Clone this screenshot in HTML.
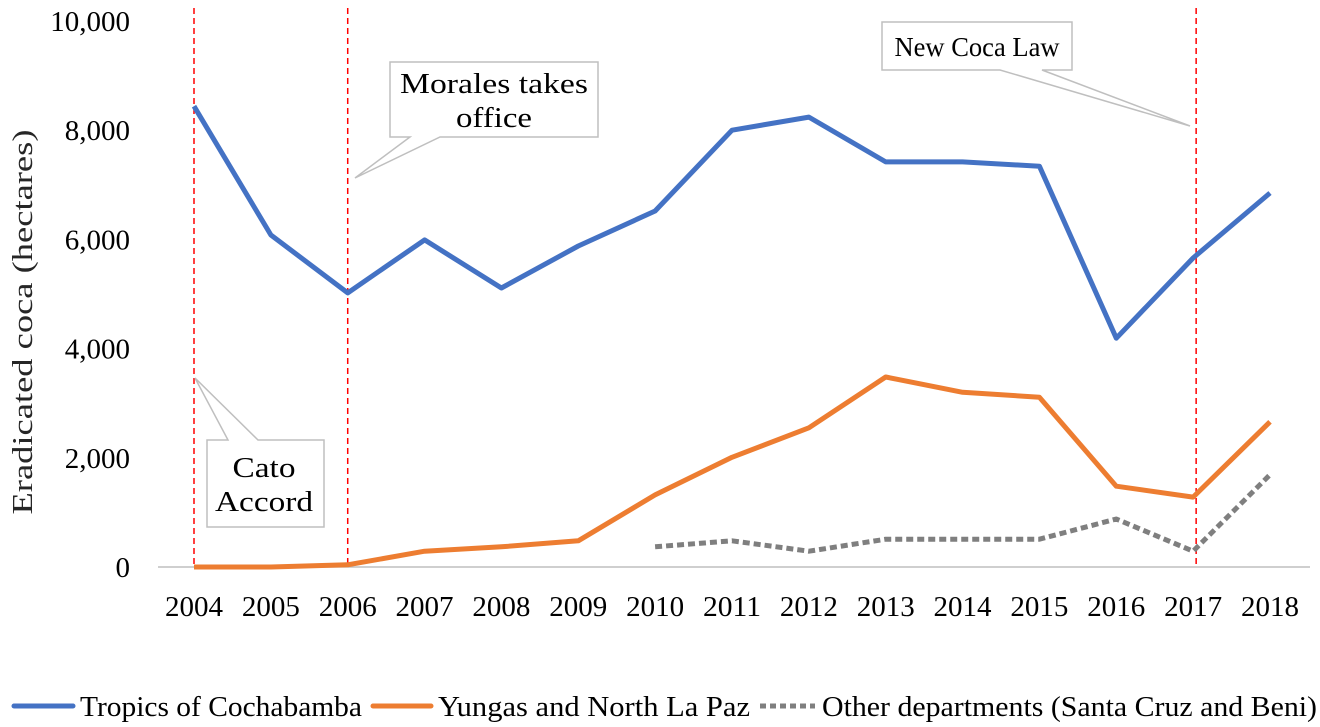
<!DOCTYPE html>
<html><head><meta charset="utf-8"><style>
body{margin:0;background:#fff;}
svg{display:block;font-family:"Liberation Serif",serif;}
</style></head><body>
<svg id="chart" width="1320" height="727" viewBox="0 0 1320 727">
<line x1="158" y1="567" x2="1310" y2="567" stroke="#bfbfbf" stroke-width="1.5"/>
<g id="ticks"></g>
<text transform="translate(32,322) rotate(-90)" text-anchor="middle" font-size="29" textLength="385" lengthAdjust="spacingAndGlyphs" fill="#262626">Eradicated coca (hectares)</text>
<g id="events"></g>
<g id="series"></g>
<g>
<polygon points="390,62 598,62 598,137 440,137 355,178 410,137 390,137" fill="#fff" stroke="#bfbfbf" stroke-width="1.5"/>
<text x="494" y="93" text-anchor="middle" font-size="29" textLength="188" lengthAdjust="spacingAndGlyphs" fill="#000">Morales takes</text>
<text x="494" y="127" text-anchor="middle" font-size="29" textLength="76" lengthAdjust="spacingAndGlyphs" fill="#000">office</text>
</g>
<g>
<polygon points="882,22 1072,22 1072,70 1042,70 1190,126 1000,70 882,70" fill="#fff" stroke="#bfbfbf" stroke-width="1.5"/>
<text x="977" y="56" text-anchor="middle" font-size="27" textLength="165" lengthAdjust="spacingAndGlyphs" fill="#000">New Coca Law</text>
</g>
<g>
<polygon points="207,440 228,440 195,378 258,440 324,440 324,527 207,527" fill="#fff" stroke="#bfbfbf" stroke-width="1.5"/>
<text x="264" y="477" text-anchor="middle" font-size="29" textLength="63" lengthAdjust="spacingAndGlyphs" fill="#000">Cato</text>
<text x="264" y="511" text-anchor="middle" font-size="29" textLength="98" lengthAdjust="spacingAndGlyphs" fill="#000">Accord</text>
</g>
<g>
<line x1="14" y1="706" x2="73" y2="706" stroke="#4472c4" stroke-width="5" stroke-linecap="round"/>
<text x="80" y="716" font-size="29" textLength="282" lengthAdjust="spacingAndGlyphs" fill="#000">Tropics of Cochabamba</text>
<line x1="373" y1="706" x2="431" y2="706" stroke="#ed7d31" stroke-width="5" stroke-linecap="round"/>
<text x="438" y="716" font-size="29" textLength="312" lengthAdjust="spacingAndGlyphs" fill="#000">Yungas and North La Paz</text>
<line x1="760" y1="706" x2="815" y2="706" stroke="#7f7f7f" stroke-width="5" stroke-dasharray="6,4"/>
<text x="822" y="716" font-size="29" textLength="495" lengthAdjust="spacingAndGlyphs" fill="#000">Other departments (Santa Cruz and Beni)</text>
</g>
</svg>
<script>
const years=[2004,2005,2006,2007,2008,2009,2010,2011,2012,2013,2014,2015,2016,2017,2018];
const tropics=[8440,6080,5020,5990,5110,5880,6520,8000,8240,7420,7420,7340,4190,5660,6850];
const yungas=[0,0,40,290,370,480,1320,2010,2550,3480,3200,3110,1480,1280,2660];
const other=[null,null,null,null,null,null,370,480,290,510,510,510,880,290,1690];
const yTicks=[0,2000,4000,6000,8000,10000];
const eventYears=[2004,2006,2017];
const NS='http://www.w3.org/2000/svg';
const x=i=>194+i*(1270-194)/14;
const xy=yr=>x(yr-2004);
const y=v=>567-v*546/10000;
function mk(t,a,p){const e=document.createElementNS(NS,t);for(const k in a)e.setAttribute(k,a[k]);p.appendChild(e);return e;}
const ticks=document.getElementById('ticks');
yTicks.forEach(v=>{const t=mk('text',{x:130,y:y(v)+10,'text-anchor':'end','font-size':29,fill:'#000'},ticks);t.textContent=v.toLocaleString('en-US');

});
years.forEach((yr,i)=>{const t=mk('text',{x:x(i),y:616,'text-anchor':'middle','font-size':28,textLength:58,lengthAdjust:'spacingAndGlyphs',fill:'#000'},ticks);t.textContent=yr;

});
const ev=document.getElementById('events');
eventYears.forEach(yr=>{const xx=yr===2017?xy(yr)+3:xy(yr);const l=mk('line',{x1:xx,x2:xx,y1:8,y2:567,stroke:'#ff0000','stroke-width':1.5,'stroke-dasharray':'6,4'},ev);

});
const sg=document.getElementById('series');
function line(vals,color,dash,name){let d='';let pen=false;vals.forEach((v,i)=>{if(v===null){pen=false;return;}d+=(pen?'L':'M')+x(i).toFixed(1)+','+y(v).toFixed(1);pen=true;});
const p=mk('path',{d:d,fill:'none',stroke:color,'stroke-width':5,'stroke-linejoin':'round','stroke-dasharray':dash||'none'},sg);

}
line(other,'#7f7f7f','7,4','series-other-departments');
line(yungas,'#ed7d31',null,'series-yungas');
line(tropics,'#4472c4',null,'series-tropics');
</script>
</body></html>
